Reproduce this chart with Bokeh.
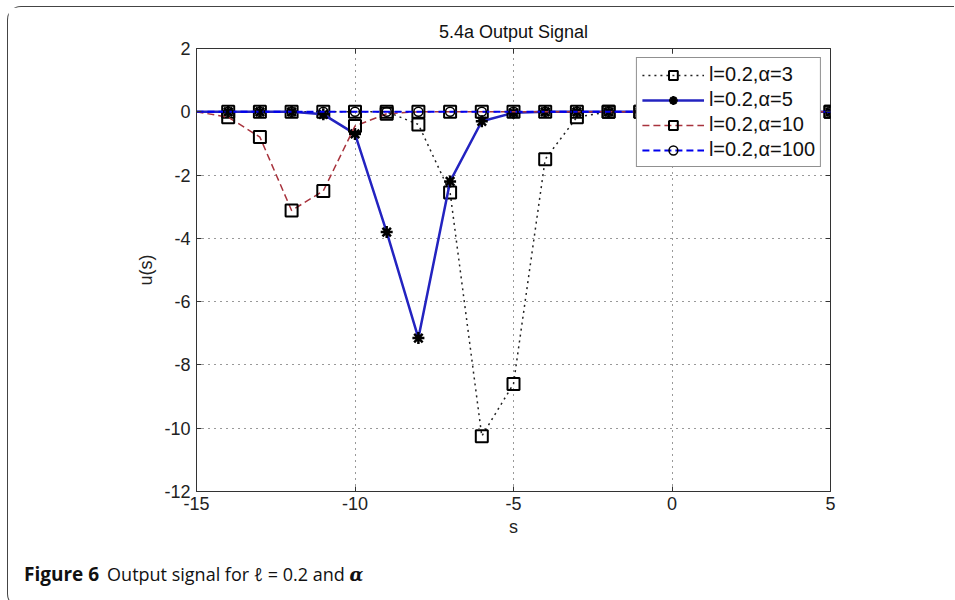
from bokeh.plotting import figure
from bokeh.layouts import column
from bokeh.models import (Range1d, FixedTicker, LinearAxis, Legend, LegendItem,
                          ColumnDataSource, Div)
from bokeh.embed import file_html
from bokeh.resources import INLINE

# ---- data ----
s_vals = [-15, -14, -13, -12, -11, -10, -9, -8, -7, -6, -5, -4, -3, -2, -1, 0, 1, 2, 3, 4, 5]
u_a3 = [0, 0, 0, 0, 0, 0, 0, -0.4, -2.55, -10.25, -8.6, -1.5, -0.17, 0, 0, 0, 0, 0, 0, 0, 0]
u_a5 = [0, 0, 0, 0, -0.08, -0.7, -3.8, -7.15, -2.2, -0.3, -0.03, 0, 0, 0, 0, 0, 0, 0, 0, 0, 0]
u_a10 = [0, -0.17, -0.8, -3.12, -2.5, -0.45, -0.06, 0, 0, 0, 0, 0, 0, 0, 0, 0, 0, 0, 0, 0, 0]
u_a100 = [0, 0, 0, 0, 0, 0, 0, 0, 0, 0, 0, 0, 0, 0, 0, 0, 0, 0, 0, 0, 0]
series_labels = ["l=0.2,\u03b1=3", "l=0.2,\u03b1=5", "l=0.2,\u03b1=10", "l=0.2,\u03b1=100"]
x_ticks = [-15, -10, -5, 0, 5]
y_ticks = [-12, -10, -8, -6, -4, -2, 0, 2]
x_tick_labels = ["-15", "-10", "-5", "0", "5"]
y_tick_labels = ["-12", "-10", "-8", "-6", "-4", "-2", "0", "2"]
title_text = "5.4a Output Signal"
x_label = "s"
y_label = "u(s)"
caption_bold = "Figure 6"
caption_text = "Output signal for \u2113 = 0.2 and"
caption_symbol = "\u03b1"

FONT = "Liberation Sans"
W = 946

src = ColumnDataSource(dict(s=s_vals, a3=u_a3, a5=u_a5, a10=u_a10, a100=u_a100))
src_m = ColumnDataSource(dict(s=s_vals[1:], a3=u_a3[1:], a5=u_a5[1:], a10=u_a10[1:], a100=u_a100[1:]))

p = figure(width=W, height=550, x_range=Range1d(-15, 5), y_range=Range1d(-12, 2),
           output_backend="svg", toolbar_location=None, title=title_text,
           min_border_left=188, min_border_right=124, min_border_top=41, min_border_bottom=66)
p.background_fill_color = "white"
p.border_fill_color = "white"
p.outline_line_color = "#333333"
p.outline_line_width = 1
p.title.align = "center"
p.title.text_font = FONT
p.title.text_font_size = "18px"
p.title.text_font_style = "normal"
p.title.text_color = "#111111"
p.title.standoff = 13

p.xaxis.ticker = FixedTicker(ticks=x_ticks)
p.yaxis.ticker = FixedTicker(ticks=y_ticks)
p.xaxis.major_label_overrides = dict(zip(x_ticks, x_tick_labels))
p.yaxis.major_label_overrides = dict(zip(y_ticks, y_tick_labels))
for ax in (p.xaxis, p.yaxis):
    ax.major_tick_in = 5
    ax.major_tick_out = 0
    ax.minor_tick_line_color = None
    ax.axis_line_color = "#333333"
    ax.major_tick_line_color = "#333333"
    ax.major_label_text_font = FONT
    ax.major_label_text_font_size = "18px"
    ax.major_label_text_color = "#222222"
    ax.axis_label_text_font = FONT
    ax.axis_label_text_font_size = "18px"
    ax.axis_label_text_font_style = "normal"
    ax.axis_label_text_color = "#222222"
p.xaxis.axis_label = x_label
p.yaxis.axis_label = y_label
p.xaxis.major_label_standoff = 5
p.xaxis.axis_label_standoff = 4
p.yaxis.major_label_standoff = 6
p.yaxis.axis_label_standoff = 5

# mirrored tick marks on top and right (no labels)
for loc, tks in (("above", x_ticks), ("right", y_ticks)):
    ax = LinearAxis(ticker=FixedTicker(ticks=tks))
    ax.major_tick_in = 5
    ax.major_tick_out = 0
    ax.minor_tick_line_color = None
    ax.axis_line_color = None
    ax.major_tick_line_color = "#333333"
    ax.major_label_text_color = None
    ax.major_label_text_alpha = 0
    ax.major_label_standoff = 0
    p.add_layout(ax, loc)

for g in (p.xgrid, p.ygrid):
    g.grid_line_color = "#333333"
    g.grid_line_dash = "1 5"
    g.grid_line_width = 1

# ---- series ----
l3 = p.line("s", "a3", source=src, line_color="#222222", line_width=1.5, line_dash="2 4")
m3 = p.scatter("s", "a3", source=src_m, marker="square", size=12, line_color="black",
               line_width=2, fill_alpha=0)
l5 = p.line("s", "a5", source=src, line_color="#2323c0", line_width=2.5)
m5 = p.scatter("s", "a5", source=src_m, marker="asterisk", size=12, line_color="black",
               line_width=2.5)
l10 = p.line("s", "a10", source=src, line_color="#a8333d", line_width=1.5, line_dash="7 4")
m10 = p.scatter("s", "a10", source=src_m, marker="square", size=12, line_color="black",
                line_width=2, fill_alpha=0)
l100 = p.line("s", "a100", source=src, line_color="#0000ee", line_width=2, line_dash="7 4")
m100 = p.scatter("s", "a100", source=src_m, marker="circle", size=9, line_color="black",
                 line_width=1.5, fill_alpha=0)

legend = Legend(items=[
    LegendItem(label=series_labels[0], renderers=[l3, m3]),
    LegendItem(label=series_labels[1], renderers=[l5, m5]),
    LegendItem(label=series_labels[2], renderers=[l10, m10]),
    LegendItem(label=series_labels[3], renderers=[l100, m100]),
], location="top_right")
legend.margin = 9
legend.padding = 5
legend.spacing = 2
legend.glyph_width = 62
legend.glyph_height = 22
legend.label_standoff = 5
legend.label_height = 22
legend.label_text_font = FONT
legend.label_text_font_size = "20px"
legend.label_text_color = "#111111"
legend.border_line_color = "#222222"
legend.border_line_width = 1
legend.background_fill_alpha = 1
p.add_layout(legend)

# ---- caption below the chart ----
caption_html = (
    '<span style="font-weight:bold;font-size:19px">' + caption_bold + '</span>'
    '<span style="margin-left:8px">' + caption_text + ' </span>'
    '<span style="font-family:\'DejaVu Serif\';font-weight:bold;font-style:italic">'
    + caption_symbol + '</span>'
)
cap = Div(text=caption_html, width=W - 11, height=40,
          styles={"font-family": "'Open Sans'", "font-size": "18px", "color": "#111111",
                  "padding-left": "11px", "line-height": "24px", "white-space": "nowrap"})

layout = column(p, cap, spacing=0,
                styles={"margin-left": "7px", "margin-top": "6px",
                        "border-left": "1px solid #444", "border-top": "1px solid #444",
                        "border-bottom": "1px solid #444", "border-radius": "14px 0 0 14px"})

open("out.html", "w").write(file_html(layout, INLINE))
